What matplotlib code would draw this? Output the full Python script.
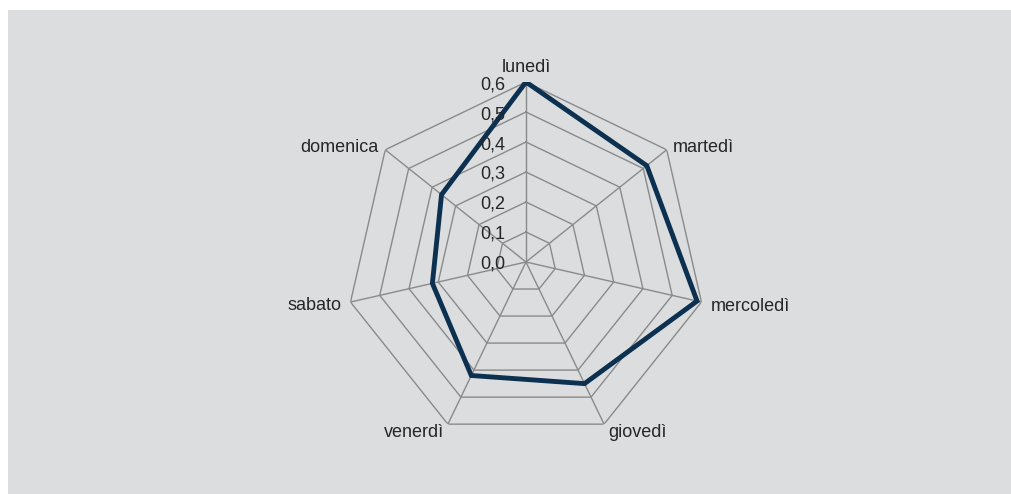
import numpy as np
import matplotlib
matplotlib.use("Agg")
import matplotlib.pyplot as plt
from matplotlib.patches import Rectangle
from matplotlib.transforms import offset_copy

# Weekday profile
days = ["lunedì", "martedì", "mercoledì", "giovedì", "venerdì", "sabato", "domenica"]
values = [0.60, 0.515, 0.585, 0.45, 0.42, 0.32, 0.36]
ring_levels = [0.1, 0.2, 0.3, 0.4, 0.5, 0.6]
tick_labels = ["0,0", "0,1", "0,2", "0,3", "0,4", "0,5", "0,6"]

bg_color = "#DCDDDF"
grid_color = "#8A8A8A"
line_color = "#0C3150"
text_color = "#262626"
font = ["Liberation Sans", "DejaVu Sans"]
fs = 13

fig = plt.figure(figsize=(10.11, 4.94), dpi=100, facecolor="white")
fig.patches.append(Rectangle((8 / 1011, 0), 1, 484 / 494, transform=fig.transFigure,
                             facecolor=bg_color, edgecolor="none", zorder=-10))

ax = fig.add_axes([0.3422, 0.1053, 0.3561, 0.7287], projection="polar")
ax.set_zorder(1)
ax.set_facecolor("none")
ax.patch.set_alpha(0)
ax.set_theta_zero_location("N")
ax.set_theta_direction(-1)
ax.set_ylim(0, max(ring_levels))
ax.grid(False)
ax.spines["polar"].set_visible(False)
ax.set_xticks([])
ax.set_yticks([])

n = len(days)
theta = np.arange(n) * 2 * np.pi / n
theta_closed = np.append(theta, theta[0])

# polygon rings
for lvl in ring_levels:
    ax.plot(theta_closed, [lvl] * (n + 1), color=grid_color, lw=1.0, zorder=2)
# spokes
for t in theta:
    ax.plot([t, t], [0, max(ring_levels)], color=grid_color, lw=1.0, zorder=2)

# series
vals_closed = values + values[:1]
ax.plot(theta_closed, vals_closed, color=line_color, lw=3.5,
        solid_joinstyle="miter", zorder=4)

# category labels (offsets in pixels from the outer vertex)
label_offsets = [(0, 10, "center"), (6, -2, "left"), (9, -9, "left"), (4, -13, "left"),
                 (-4, -13, "right"), (-9, -8, "right"), (-7, -2, "right")]
for t, name, (dx, dy, ha) in zip(theta, days, label_offsets):
    tr = offset_copy(ax.transData, fig=fig, x=dx, y=dy, units="dots")
    ax.text(t, max(ring_levels), name, transform=tr, ha=ha, va="baseline",
            fontsize=fs, family=font, color=text_color, zorder=5, clip_on=False)

# radial value labels along the first axis
tr = offset_copy(ax.transData, fig=fig, x=-21, y=-7, units="dots")
for lvl, lab in zip([0.0] + ring_levels, tick_labels):
    ax.text(0, lvl, lab, transform=tr, ha="right", va="baseline",
            fontsize=fs, family=font, color=text_color, zorder=5, clip_on=False)

fig.savefig("out.png", dpi=100, facecolor=fig.get_facecolor())
